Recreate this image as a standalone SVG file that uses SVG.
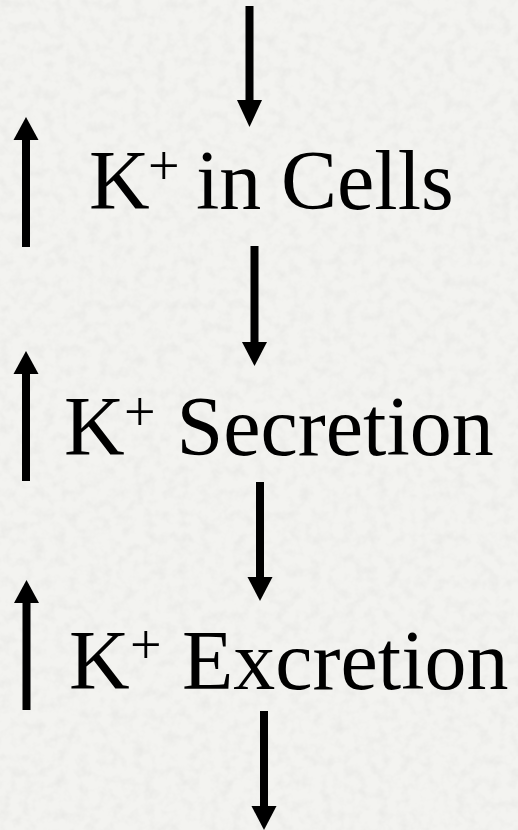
<svg xmlns="http://www.w3.org/2000/svg" width="518" height="830" viewBox="0 0 518 830">
<style>
text{font-family:'Liberation Serif','Times New Roman',Times,serif;font-size:84px;fill:#000}
.sup{font-size:56px}
.shaft{stroke:#000;stroke-width:8;fill:none}
.head{fill:#000}
</style>
<defs>
<filter id="tex" x="0" y="0" width="100%" height="100%">
<feTurbulence type="fractalNoise" baseFrequency="0.09" numOctaves="3" seed="5"/>
<feColorMatrix type="matrix" values="0 0 0 0 0.78  0 0 0 0 0.78  0 0 0 0 0.76  1.2 0 0 0 -0.5"/>
</filter>
</defs>
<rect width="518" height="830" fill="#f3f3f0"/>
<rect width="518" height="830" filter="url(#tex)"/>

<g id="connectors">
<g id="c0"><line class="shaft" x1="249.5" y1="6" x2="249.5" y2="102"/><polygon class="head" points="237,100 262,100 249.5,127"/></g>
<g id="c1"><line class="shaft" x1="254.5" y1="246" x2="254.5" y2="344"/><polygon class="head" points="242,342 267,342 254.5,366"/></g>
<g id="c2"><line class="shaft" x1="260" y1="482" x2="260" y2="579"/><polygon class="head" points="247.5,577 272.5,577 260,601"/></g>
<g id="c3"><line class="shaft" x1="264" y1="711" x2="264" y2="808"/><polygon class="head" points="251.5,806 276.5,806 264,830"/></g>
</g>

<g id="n1">
<line class="shaft" x1="26" y1="138" x2="26" y2="247"/><polygon class="head" points="13.5,140 38.5,140 26,117"/>
<text x="89" y="209">K<tspan class="sup" x="148" dy="-24">+</tspan><tspan x="196" dy="24">in</tspan><tspan x="281">Cells</tspan></text>
</g>
<g id="n2">
<line class="shaft" x1="26" y1="372" x2="26" y2="481"/><polygon class="head" points="13.5,374 38.5,374 26,351"/>
<text x="64" y="455">K<tspan class="sup" x="124" dy="-24">+</tspan><tspan x="176.5" dy="24">Secretion</tspan></text>
</g>
<g id="n3">
<line class="shaft" x1="26.5" y1="601" x2="26.5" y2="710"/><polygon class="head" points="14,603 39,603 26.5,580"/>
<text x="69" y="689">K<tspan class="sup" x="130" dy="-25">+</tspan><tspan x="182" dy="25">Excretion</tspan></text>
</g>
</svg>
